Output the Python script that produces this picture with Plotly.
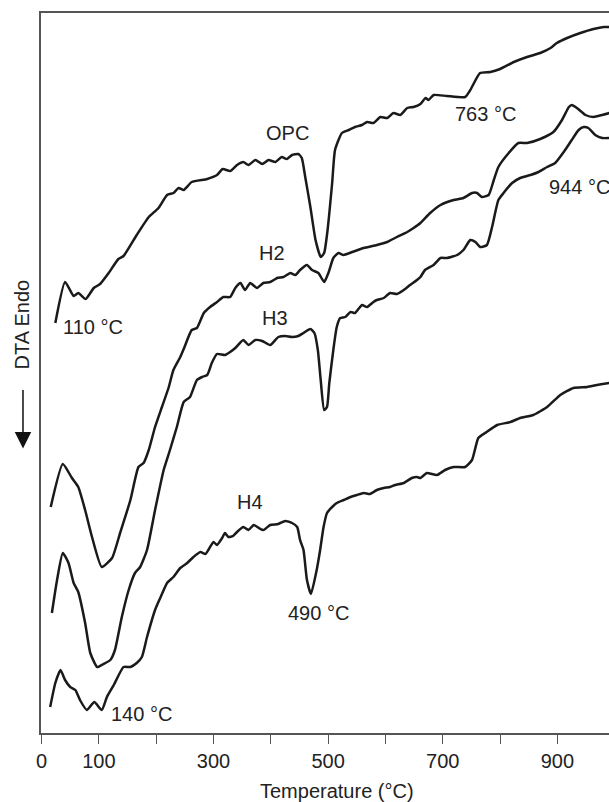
import plotly.graph_objects as go

# DTA traces: temperature (°C) and signal (arbitrary units, stacked offsets)
opc_temp = [24, 41, 56, 64, 77, 91, 102, 117, 134, 143, 166, 187, 204, 219, 230, 239, 248, 262,
            289, 306, 316, 329, 341, 352, 361, 373, 385, 396, 408, 419, 428, 437, 448, 454, 460,
            469, 478, 487, 493, 499, 507, 512, 524, 536, 547, 559, 568, 579, 591, 603, 614, 626,
            638, 649, 661, 670, 675, 684, 707, 739, 748, 765, 783, 800, 824, 847, 870, 888, 899,
            917, 940, 963, 981, 991]
opc_signal = [410, 451, 437, 440, 434, 445, 449, 460, 474, 477, 498, 516, 525, 538, 540, 545, 543, 551,
              554, 558, 564, 562, 568, 571, 568, 573, 569, 573, 571, 576, 574, 578, 579, 575, 556,
              526, 493, 476, 480, 503, 550, 583, 600, 603, 606, 608, 611, 610, 616, 615, 620, 618,
              625, 626, 629, 635, 633, 638, 637, 636, 643, 660, 661, 664, 671, 676, 680, 685, 690,
              695, 700, 704, 706, 706]

h2_temp = [16, 37, 53, 64, 76, 88, 105, 123, 137, 155, 169, 178, 187, 198, 210, 222, 230, 242, 248,
           262, 271, 283, 294, 306, 317, 329, 338, 347, 355, 364, 376, 387, 399, 411, 422, 434, 443,
           451, 463, 472, 483, 493, 501, 509, 518, 527, 542, 562, 585, 603, 620, 638, 649, 661, 678,
           696, 719, 736, 751, 760, 768, 780, 789, 797, 815, 832, 847, 870, 893, 908, 920, 925, 934,
           949, 963, 978, 991]
h2_signal = [226, 269, 255, 246, 223, 196, 166, 175, 200, 233, 266, 270, 283, 306, 326, 346, 363, 376, 384,
             403, 405, 420, 426, 431, 436, 436, 445, 450, 443, 450, 445, 450, 451, 455, 456, 460, 458,
             463, 468, 463, 460, 451, 461, 475, 480, 478, 481, 485, 488, 491, 496, 501, 505, 510, 520,
             528, 533, 535, 540, 540, 536, 538, 553, 566, 580, 590, 590, 594, 601, 613, 626, 628, 625,
             618, 616, 618, 620]

h3_temp = [18, 27, 37, 47, 56, 64, 76, 85, 97, 108, 120, 128, 140, 152, 163, 172, 184, 198, 213, 224,
           236, 248, 259, 271, 280, 289, 297, 306, 320, 329, 338, 352, 361, 373, 385, 399, 413, 425,
           437, 448, 457, 469, 476, 482, 487, 493, 498, 502, 509, 515, 521, 530, 539, 547, 559, 568,
           579, 585, 597, 608, 620, 632, 643, 655, 661, 669, 684, 696, 707, 725, 736, 748, 757, 765,
           777, 786, 797, 806, 821, 835, 853, 867, 882, 896, 911, 925, 937, 946, 954, 966, 978, 991]
h3_signal = [120, 153, 180, 170, 150, 141, 110, 80, 66, 69, 73, 83, 116, 143, 160, 166, 183, 223, 263, 283,
             306, 331, 336, 353, 356, 358, 370, 379, 378, 381, 385, 393, 388, 393, 392, 388, 396, 397,
             396, 397, 400, 404, 400, 383, 353, 323, 326, 350, 383, 406, 415, 416, 421, 420, 428, 426,
             431, 433, 435, 440, 439, 443, 448, 453, 456, 463, 468, 475, 475, 478, 483, 493, 491, 486,
             488, 506, 533, 540, 550, 555, 558, 561, 566, 570, 581, 593, 603, 606, 605, 598, 595, 595]

h4_temp = [15, 24, 33, 41, 50, 59, 67, 79, 92, 105, 114, 126, 143, 155, 166, 175, 184, 198, 207, 219,
           230, 242, 254, 265, 277, 286, 291, 300, 306, 315, 320, 326, 334, 341, 352, 361, 370, 379,
           387, 399, 413, 425, 437, 446, 451, 457, 463, 470, 480, 486, 492, 498, 507, 515, 527, 539,
           550, 562, 573, 585, 597, 608, 617, 632, 646, 655, 661, 672, 690, 704, 719, 739, 751, 762,
           774, 795, 818, 835, 858, 882, 905, 928, 952, 969, 991]
h4_signal = [26, 50, 63, 53, 46, 43, 33, 23, 31, 23, 36, 48, 66, 66, 70, 76, 96, 123, 135, 150,
             156, 165, 170, 176, 181, 179, 183, 191, 188, 195, 200, 196, 197, 201, 206, 203, 208, 205,
             203, 208, 209, 212, 210, 206, 193, 183, 153, 139, 163, 183, 206, 220, 226, 230, 233, 236,
             238, 240, 239, 243, 245, 246, 248, 250, 255, 256, 255, 260, 258, 263, 266, 266, 273, 295,
             300, 308, 311, 315, 318, 326, 338, 345, 346, 348, 350]

# Curve names and peak annotations: (text, temperature, signal, anchor)
curve_labels = [("OPC", 429, 600, "center"), ("H2", 402, 480, "center"),
                ("H3", 408, 415, "center"), ("H4", 364, 231, "center")]
peak_labels = [("110 °C", 34, 406, "left"), ("140 °C", 118, 19, "left"),
               ("490 °C", 484, 120, "center"), ("763 °C", 774, 619, "center"),
               ("944 °C", 881, 546, "left")]

tick_values = [0, 100, 200, 300, 400, 500, 600, 700, 800, 900]
tick_text = ["0", "100", "", "300", "", "500", "", "700", "", "900"]

FONT = "Liberation Sans, Arial, sans-serif"
TEXT_COLOR = "#222222"
LINE_COLOR = "#1a1a1a"

fig = go.Figure()
for temp, signal in [(opc_temp, opc_signal), (h2_temp, h2_signal),
                     (h3_temp, h3_signal), (h4_temp, h4_signal)]:
    fig.add_trace(go.Scatter(x=temp, y=signal, mode="lines",
                             line=dict(color=LINE_COLOR, width=2.5, shape="spline", smoothing=0.5),
                             hoverinfo="skip", showlegend=False))

annotations = []
for text, t, s, anchor in curve_labels + peak_labels:
    annotations.append(dict(x=t, y=s, xref="x", yref="y", text=text, showarrow=False,
                            xanchor=anchor, yanchor="middle",
                            font=dict(family=FONT, size=20, color=TEXT_COLOR)))

# x-axis title
annotations.append(dict(x=516, y=0, xref="x", yref="paper", yshift=-58, text="Temperature (°C)",
                        showarrow=False, xanchor="center", yanchor="middle",
                        font=dict(family=FONT, size=20, color=TEXT_COLOR)))
# y-axis title with downward arrow
annotations.append(dict(x=-0.034, y=0.567, xref="paper", yref="paper", text="DTA Endo",
                        textangle=-90, showarrow=False, xanchor="center", yanchor="middle",
                        font=dict(family=FONT, size=20, color=TEXT_COLOR)))
annotations.append(dict(x=-0.0317, y=0.395, xref="paper", yref="paper", text="",
                        showarrow=True, ax=0, ay=-60, arrowhead=2, arrowsize=2.2,
                        arrowwidth=1.5, arrowcolor="#111111"))

fig.update_layout(
    width=609, height=802,
    margin=dict(l=41, r=0, t=13, b=69),
    paper_bgcolor="white", plot_bgcolor="white",
    annotations=annotations,
    xaxis=dict(range=[-1, 990], tickvals=tick_values, ticktext=tick_text,
               ticks="outside", ticklen=9, tickwidth=1.3, tickcolor="#555555",
               showline=True, linecolor="#555555", linewidth=1.5, mirror=True,
               showgrid=False, zeroline=False, ticklabelstandoff=0,
               tickfont=dict(family=FONT, size=20, color=TEXT_COLOR)),
    yaxis=dict(range=[0, 720], showticklabels=False, ticks="",
               showline=True, linecolor="#555555", linewidth=1.5, mirror=False,
               showgrid=False, zeroline=False),
)

fig.write_html("out.html")
